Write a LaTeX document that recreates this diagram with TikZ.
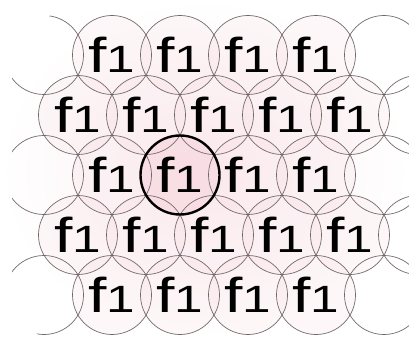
\documentclass[tikz,border=0pt]{standalone}
\usepackage{fontspec}
\usepackage{graphicx}
\usetikzlibrary{positioning, backgrounds}
\newfontfamily\cellfont{Liberation Sans}
\definecolor{bgpink}{RGB}{251, 238, 241}
\definecolor{cellpink}{RGB}{245, 200, 210}
\definecolor{hotpink}{RGB}{248, 220, 226}
\definecolor{linegray}{RGB}{115, 105, 108}
\newcommand{\fone}{\scalebox{1.35}[1]{\fontsize{49}{49}\selectfont f\fontsize{38}{38}\selectfont 1}}
\tikzset{
  cell/.style={circle, draw=linegray, line width=0.7pt, minimum size=79pt, inner sep=0pt, font=\cellfont},
  outer/.style={circle, draw=linegray, line width=0.7pt, minimum size=79pt, inner sep=0pt},
  hot/.style={cell, draw=black, line width=2.4pt}
}

\begin{document}
\begin{tikzpicture}[x=1pt, y=-1pt]
    \useasboundingbox (0,0) rectangle (409,339);

    % row 1
    \node[cell] (a1) at (112,55) {\fone};
    \node[cell] (a2) at (180,55) {\fone};
    \node[cell] (a3) at (248,55) {\fone};
    \node[cell] (a4) at (316,55) {\fone};
    % row 2
    \node[cell] (b1) at (78,115) {\fone};
    \node[cell] (b2) at (146,115) {\fone};
    \node[cell] (b3) at (214,115) {\fone};
    \node[cell] (b4) at (282,115) {\fone};
    \node[cell] (b5) at (350,115) {\fone};
    % row 3 (c2 comes last, it is the marked cell)
    \node[cell] (c1) at (112,175) {\fone};
    \node[cell] (c3) at (248,175) {\fone};
    \node[cell] (c4) at (316,175) {\fone};
    % row 4
    \node[cell] (d1) at (78,235) {\fone};
    \node[cell] (d2) at (146,235) {\fone};
    \node[cell] (d3) at (214,235) {\fone};
    \node[cell] (d4) at (282,235) {\fone};
    \node[cell] (d5) at (350,235) {\fone};
    % row 5
    \node[cell] (e1) at (112,295) {\fone};
    \node[cell] (e2) at (180,295) {\fone};
    \node[cell] (e3) at (248,295) {\fone};
    \node[cell] (e4) at (316,295) {\fone};

    % outer ring, only partly seen
    \begin{scope}
        \clip[rounded corners=70pt] (12,8) rectangle (440,350);
        \node[outer] (a0) at (44,55) {};
        \node[outer] (c0) at (44,175) {};
        \node[outer] (e0) at (44,295) {};
        \node[outer] (a5) at (384,55) {};
        \node[outer] (b6) at (418,115) {};
        \node[outer] (c5) at (384,175) {};
        \node[outer] (d6) at (418,235) {};
        \node[outer] (e5) at (384,295) {};
    \end{scope}

    % the marked cell
    \node[hot] (c2) at (180,175) {\fone};

    % background and pink fills
    \begin{scope}[on background layer]
        \shade[inner color=bgpink, outer color=white] (0,0) rectangle (409,339);
        \foreach \n in {a1,a2,a3,a4,b1,b2,b3,b4,b5,c1,c3,c4,d1,d2,d3,d4,d5,e1,e2,e3,e4}
            \fill[cellpink, fill opacity=0.13] (\n.center) circle[radius=39.5pt];
        \fill[hotpink, fill opacity=0.85] (c2.center) circle[radius=39.5pt];
    \end{scope}
\end{tikzpicture}
\end{document}
